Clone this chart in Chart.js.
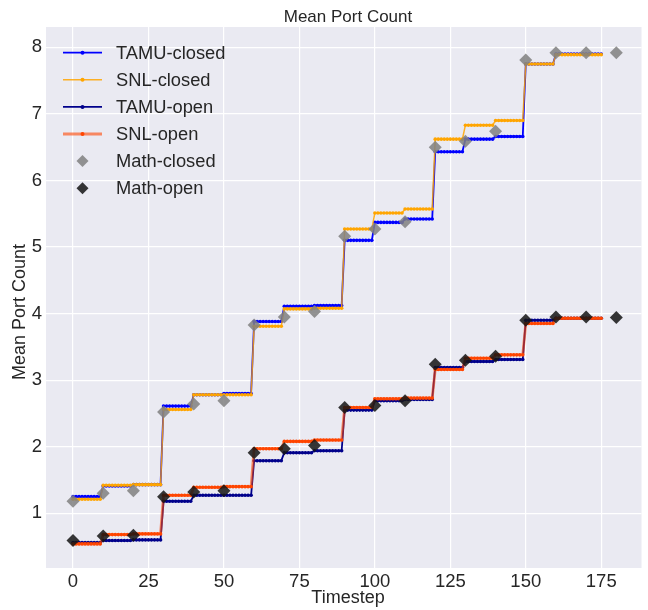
<!DOCTYPE html>
<html>
<head>
<meta charset="utf-8">
<script src="https://cdn.jsdelivr.net/npm/chart.js@4/dist/chart.umd.min.js"></script>
<style>
  html, body { margin: 0; padding: 0; background: #ffffff; overflow: hidden; }
  #wrap { width: 648px; height: 610px; position: relative; }
</style>
</head>
<body>
<div id="wrap"><canvas id="portChart" width="648" height="610"></canvas></div>
<script>
// level of each 10-step block (t = 0-9, 10-19, ... 170-175)
const tamuClosed = [1.25, 1.41, 1.43, 2.61, 2.78, 2.80, 3.88, 4.11, 4.12, 5.10, 5.37, 5.42, 6.43, 6.62, 6.66, 7.75, 7.90, 7.90];
const snlClosed  = [1.21, 1.42, 1.43, 2.56, 2.78, 2.78, 3.81, 4.07, 4.08, 5.27, 5.51, 5.57, 6.62, 6.83, 6.90, 7.75, 7.89, 7.89];
const tamuOpen   = [0.56, 0.59, 0.60, 1.18, 1.27, 1.27, 1.79, 1.91, 1.94, 2.55, 2.69, 2.71, 3.19, 3.28, 3.31, 3.90, 3.93, 3.93];
const snlOpen    = [0.54, 0.68, 0.69, 1.27, 1.39, 1.40, 1.97, 2.08, 2.10, 2.59, 2.72, 2.73, 3.16, 3.33, 3.38, 3.85, 3.93, 3.93];

// analytic values, one every 10 timesteps
const mathSteps  = [0, 10, 20, 30, 40, 50, 60, 70, 80, 90, 100, 110, 120, 130, 140, 150, 160, 170, 180];
const mathClosed = [1.18, 1.30, 1.34, 2.52, 2.64, 2.69, 3.83, 3.95, 4.03, 5.16, 5.27, 5.38, 6.50, 6.59, 6.74, 7.81, 7.92, 7.92, 7.92];
const mathOpen   = [0.59, 0.66, 0.67, 1.25, 1.32, 1.34, 1.91, 1.97, 2.02, 2.59, 2.62, 2.69, 3.24, 3.30, 3.36, 3.90, 3.95, 3.95, 3.94];

const lastStep = 175;
const xTicks = [0, 25, 50, 75, 100, 125, 150, 175];
const yTicks = [1, 2, 3, 4, 5, 6, 7, 8];

const FONT = '"Liberation Sans", Arial, sans-serif';
const TEXT = '#262626';

// every timestep sits on the level of its block
function stepSeries(levels) {
  const pts = [];
  for (let t = 0; t <= lastStep; t++) {
    pts.push({ x: t, y: levels[Math.floor(t / 10)] });
  }
  return pts;
}

function pairs(xs, ys) {
  return xs.map((x, i) => ({ x: x, y: ys[i] }));
}

function lineSet(label, levels, line, dot, width, order) {
  return {
    label: label,
    data: stepSeries(levels),
    borderColor: line,
    backgroundColor: dot,
    pointBackgroundColor: dot,
    pointBorderColor: dot,
    borderWidth: width,
    pointRadius: 1.8,
    pointBorderWidth: 0,
    tension: 0,
    order: order,
    kind: 'line'
  };
}

function diamondSet(label, ys, color, order) {
  return {
    label: label,
    data: pairs(mathSteps, ys),
    showLine: false,
    pointStyle: 'rectRot',
    pointRadius: 6.5,
    pointBorderWidth: 0,
    backgroundColor: color,
    pointBackgroundColor: color,
    borderColor: color,
    order: order,
    kind: 'diamond'
  };
}

const datasets = [
  lineSet('TAMU-closed', tamuClosed, '#0000ff', '#0000ff', 1.8, 5),
  lineSet('SNL-closed', snlClosed, 'rgba(255,165,0,0.85)', '#ffa500', 1.5, 4),
  lineSet('TAMU-open', tamuOpen, '#00008b', '#00008b', 1.8, 3),
  lineSet('SNL-open', snlOpen, 'rgba(255,69,0,0.6)', '#ff4500', 2.8, 2),
  diamondSet('Math-closed', mathClosed, 'rgba(128,128,128,0.85)', 1),
  diamondSet('Math-open', mathOpen, 'rgba(20,20,20,0.85)', 0)
];

// plot background, titles and legend
const decor = {
  id: 'decor',
  beforeDraw(chart) {
    const a = chart.chartArea;
    const ctx = chart.ctx;
    ctx.save();
    ctx.fillStyle = '#eaeaf2';
    ctx.fillRect(a.left, a.top, a.right - a.left, a.bottom - a.top);
    ctx.restore();
  },
  afterDraw(chart) {
    const a = chart.chartArea;
    const ctx = chart.ctx;
    const cx = 348;
    ctx.save();
    ctx.fillStyle = TEXT;
    ctx.textAlign = 'center';
    ctx.textBaseline = 'middle';
    ctx.font = '17px ' + FONT;
    ctx.fillText('Mean Port Count', cx, 17);
    ctx.font = '18px ' + FONT;
    ctx.fillText('Timestep', cx, 598);
    ctx.translate(20, 312);
    ctx.rotate(-Math.PI / 2);
    ctx.fillText('Mean Port Count', 0, 0);
    ctx.restore();

    // legend
    ctx.save();
    ctx.font = '18.3px ' + FONT;
    ctx.textBaseline = 'middle';
    ctx.textAlign = 'left';
    const x0 = a.left + 17, x1 = a.left + 56, xm = (x0 + x1) / 2;
    chart.data.datasets.forEach((ds, i) => {
      const y = a.top + 25.7 + i * 27.1;
      if (ds.kind === 'line') {
        ctx.strokeStyle = ds.borderColor;
        ctx.lineWidth = ds.borderWidth;
        ctx.beginPath();
        ctx.moveTo(x0, y);
        ctx.lineTo(x1, y);
        ctx.stroke();
        ctx.fillStyle = ds.pointBackgroundColor;
        ctx.beginPath();
        ctx.arc(xm, y, 2, 0, Math.PI * 2);
        ctx.fill();
      } else {
        const r = 6;
        ctx.fillStyle = ds.backgroundColor;
        ctx.beginPath();
        ctx.moveTo(xm, y - r);
        ctx.lineTo(xm + r, y);
        ctx.lineTo(xm, y + r);
        ctx.lineTo(xm - r, y);
        ctx.closePath();
        ctx.fill();
      }
      ctx.fillStyle = TEXT;
      ctx.fillText(ds.label, a.left + 70, y + 1);
    });
    ctx.restore();
  }
};

const ctx = document.getElementById('portChart').getContext('2d');
new Chart(ctx, {
  type: 'line',
  data: { datasets: datasets },
  options: {
    responsive: false,
    animation: false,
    events: [],
    layout: { padding: { top: 27, right: 0, bottom: 0, left: 0 } },
    scales: {
      x: {
        type: 'linear',
        min: -8.95,
        max: 188.34,
        afterFit(scale) { scale.height = 42; },
        afterBuildTicks(scale) { scale.ticks = xTicks.map(v => ({ value: v })); },
        grid: { color: '#ffffff', lineWidth: 1.2, drawTicks: false },
        border: { display: false },
        ticks: { color: TEXT, font: { size: 18.5, family: FONT }, padding: 3, maxRotation: 0 }
      },
      y: {
        type: 'linear',
        min: 0.178,
        max: 8.305,
        afterFit(scale) { scale.width = 46; },
        afterBuildTicks(scale) { scale.ticks = yTicks.map(v => ({ value: v })); },
        grid: { color: '#ffffff', lineWidth: 1.2, drawTicks: false },
        border: { display: false },
        ticks: { color: TEXT, font: { size: 18.5, family: FONT }, padding: 4 }
      }
    },
    plugins: {
      legend: { display: false },
      tooltip: { enabled: false }
    }
  },
  plugins: [decor]
});
</script>
</body>
</html>
